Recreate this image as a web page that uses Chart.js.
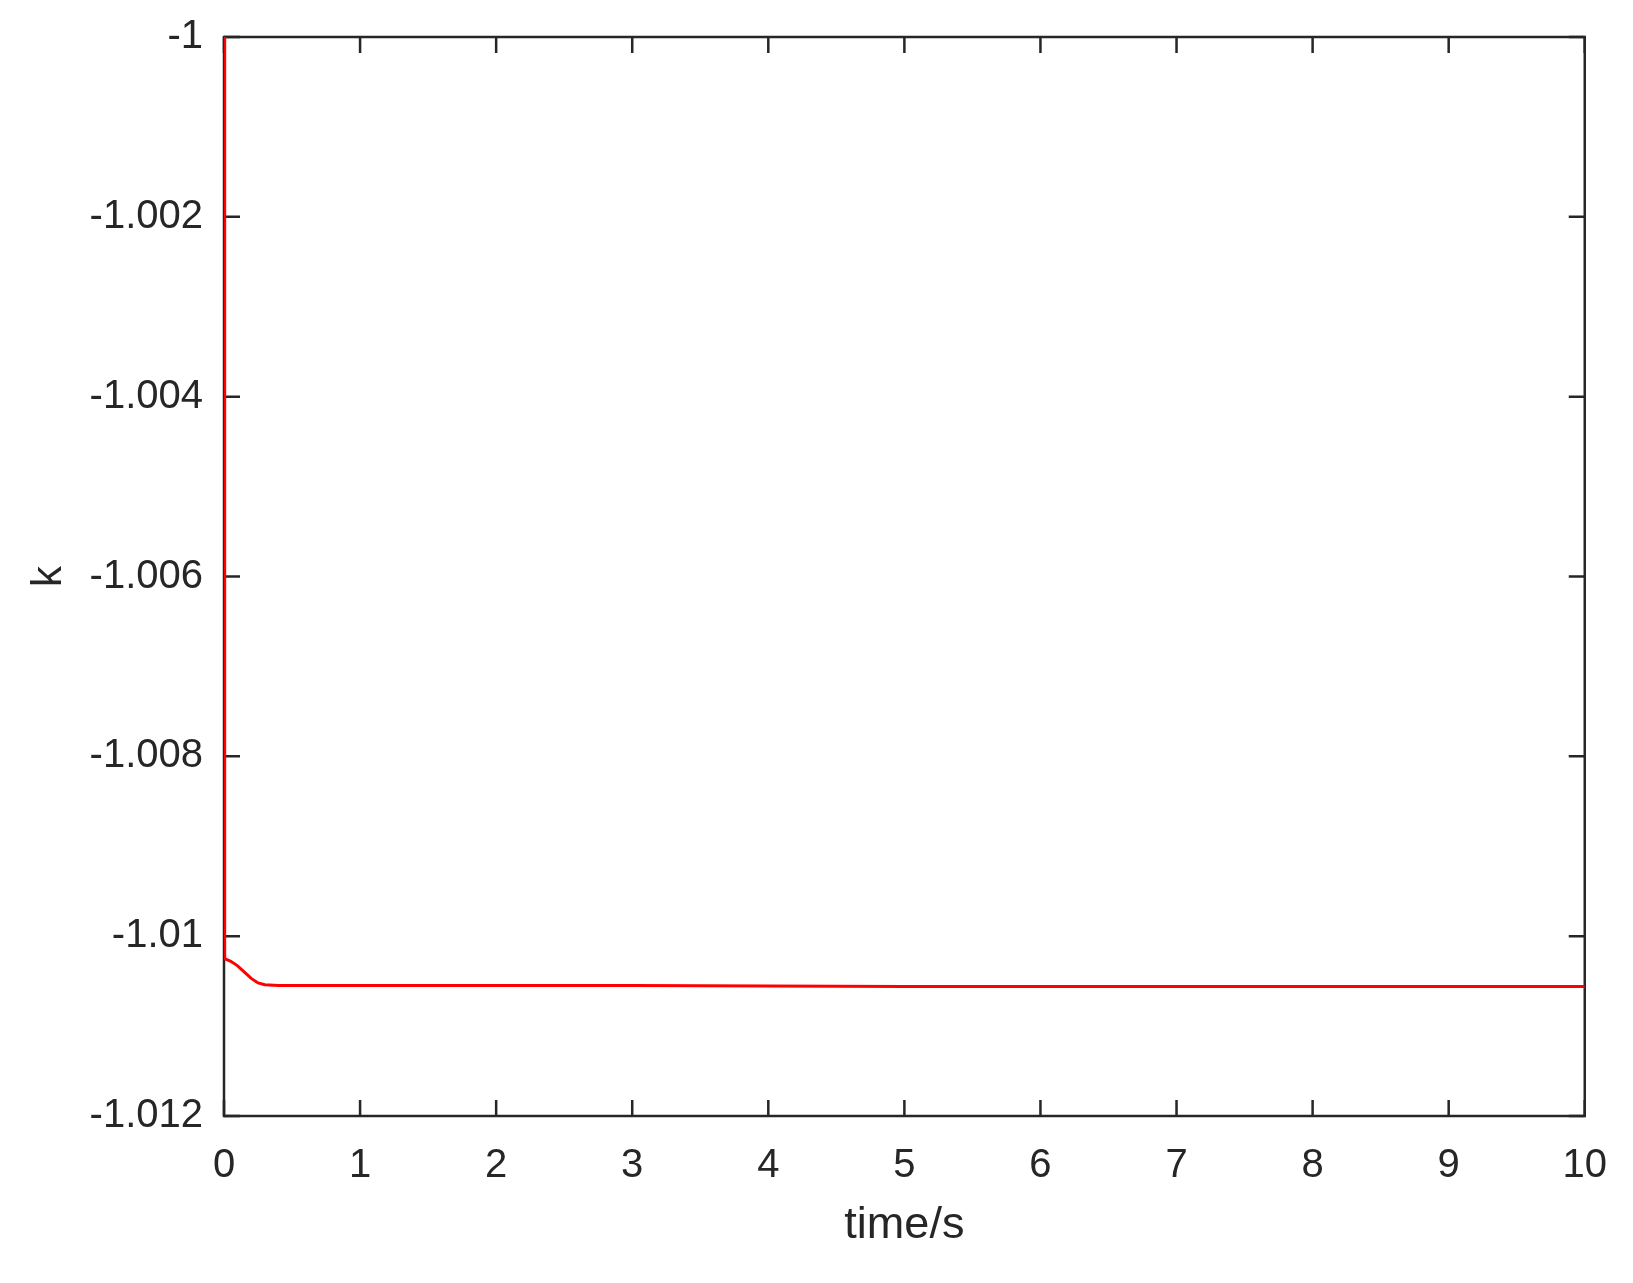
<!DOCTYPE html>
<html>
<head>
<meta charset="utf-8">
<script src="https://cdn.jsdelivr.net/npm/chart.js@4.4.1/dist/chart.umd.min.js"></script>
<style>
  html, body { margin: 0; padding: 0; background: #fff; }
  #wrap { width: 1633px; height: 1283px; }
</style>
</head>
<body>
<div id="wrap"><canvas id="mycanvas" width="1633" height="1283"></canvas></div>
<script>
// values
var timeValues = [0, 0.005, 0.05, 0.1, 0.15, 0.2, 0.25, 0.3, 0.4, 1, 3, 5, 7, 10];
var kValues = [-1, -1.01025, -1.01028, -1.01033, -1.0104, -1.01047, -1.01052, -1.01054, -1.01055, -1.01055, -1.01055, -1.01056, -1.01056, -1.01056];

var xTicks = [0, 1, 2, 3, 4, 5, 6, 7, 8, 9, 10];
var yTicks = [-1.012, -1.01, -1.008, -1.006, -1.004, -1.002, -1];

var axisColor = "#262626";
var fontFamily = "'Liberation Sans', Arial, sans-serif";

var points = [];
for (var i = 0; i < timeValues.length; i++) {
  points.push({ x: timeValues[i], y: kValues[i] });
}

// box around plot + inward ticks on all four sides, like matlab
var frame = {
  id: "frame",
  beforeDatasetsDraw: function(chart) {
    var ctx = chart.ctx;
    var a = chart.chartArea;
    var xs = chart.scales.x, ys = chart.scales.y;
    var len = 16;
    ctx.save();
    ctx.strokeStyle = axisColor;
    ctx.lineWidth = 2.5;
    ctx.beginPath();
    for (var i = 0; i < xTicks.length; i++) {
      var px = xs.getPixelForValue(xTicks[i]);
      ctx.moveTo(px, a.bottom); ctx.lineTo(px, a.bottom - len);
      ctx.moveTo(px, a.top); ctx.lineTo(px, a.top + len);
    }
    for (var j = 0; j < yTicks.length; j++) {
      var py = ys.getPixelForValue(yTicks[j]);
      ctx.moveTo(a.left, py); ctx.lineTo(a.left + len, py);
      ctx.moveTo(a.right, py); ctx.lineTo(a.right - len, py);
    }
    ctx.stroke();
    ctx.strokeRect(a.left, a.top, a.right - a.left, a.bottom - a.top);
    ctx.restore();
  }
};

var ctx = document.getElementById("mycanvas");

var LineGraph = new Chart(ctx, {
  type: "line",
  data: {
    datasets: [{
      label: "k",
      data: points,
      borderColor: "#ff0000",
      borderWidth: 3,
      pointRadius: 0,
      fill: false,
      tension: 0
    }]
  },
  options: {
    responsive: false,
    animation: false,
    layout: { padding: { top: 37, right: 43, left: 0, bottom: 0 } },
    plugins: { legend: { display: false }, tooltip: { enabled: false } },
    scales: {
      x: {
        type: "linear",
        min: 0,
        max: 10,
        afterFit: function(scale) { scale.height = 167; },
        afterBuildTicks: function(scale) {
          scale.ticks = xTicks.map(function(v) { return { value: v }; });
        },
        grid: { display: false, drawTicks: false },
        border: { display: false },
        ticks: {
          color: axisColor,
          padding: 26,
          font: { family: fontFamily, size: 40 },
          callback: function(v) { return String(v); }
        },
        title: {
          display: true,
          text: "time/s",
          color: axisColor,
          padding: { top: 0, bottom: 30 },
          font: { family: fontFamily, size: 45 }
        }
      },
      y: {
        type: "linear",
        min: -1.012,
        max: -1,
        afterFit: function(scale) { scale.width = 224; },
        afterBuildTicks: function(scale) {
          scale.ticks = yTicks.map(function(v) { return { value: v }; });
        },
        grid: { display: false, drawTicks: false },
        border: { display: false },
        ticks: {
          color: axisColor,
          padding: 21,
          font: { family: fontFamily, size: 40, lineHeight: 0.7 },
          callback: function(v) { return String(Number(v.toFixed(3))); }
        },
        title: {
          display: true,
          text: "k",
          color: axisColor,
          padding: { top: 24, bottom: 0 },
          font: { family: fontFamily, size: 42 }
        }
      }
    }
  },
  plugins: [frame]
});
</script>
</body>
</html>
